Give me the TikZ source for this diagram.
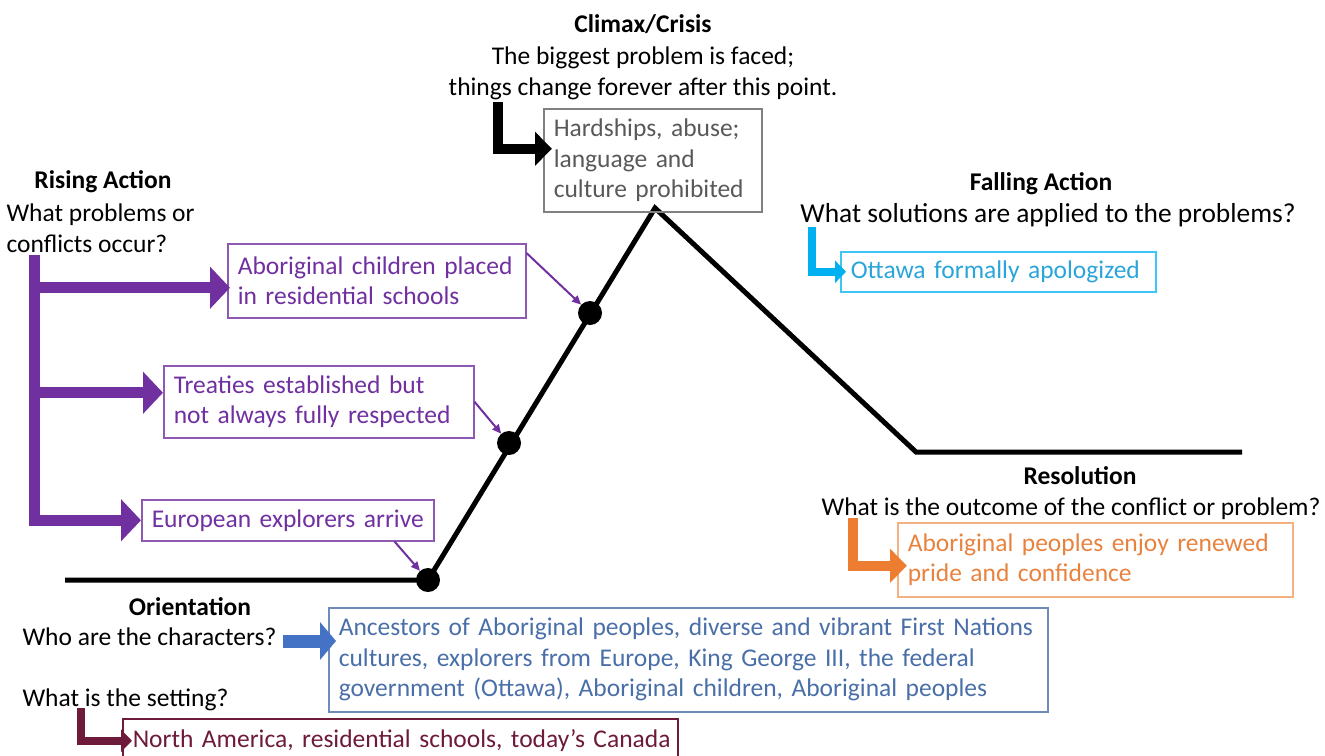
\documentclass[tikz,border=0pt]{standalone}
\usepackage{fontspec}
\setmainfont{Carlito}
\usepackage{xcolor}
\usetikzlibrary{arrows, arrows.meta}
\usetikzlibrary{positioning}

\definecolor{risepurple}{HTML}{7030A0}
\definecolor{crisisgray}{HTML}{595959}
\definecolor{fallcyan}{HTML}{00B0F0}
\definecolor{fallcyantext}{HTML}{2AA5DA}
\definecolor{resorange}{HTML}{ED7D31}
\definecolor{resorangetext}{HTML}{E8823F}
\definecolor{orientblue}{HTML}{4472C4}
\definecolor{charblue}{HTML}{4A6FA8}
\definecolor{setmaroon}{HTML}{6E1A3A}

\tikzset{
	x=1pt, y=-1pt,
	every node/.style={font=\fontsize{25.5}{30.5}\selectfont},
	heading/.style={font=\fontsize{25.5}{30.5}\selectfont\bfseries},
	evbox/.style={draw, line width=1.5pt, anchor=north west, inner xsep=10pt, inner ysep=0pt, align=left},
	dot/.style={circle, fill=black, minimum size=24pt, inner sep=0pt},
	plotline/.style={line width=5pt},
	pointer/.style={risepurple, line width=2pt, -{Triangle[length=9pt, width=8pt]}},
	bigarrow/.style={line width=10pt, -{Triangle[length=17pt, width=33pt]}},
	smallarrow/.style={line width=8pt, -{Triangle[length=11pt, width=22pt]}},
}

\begin{document}
\begin{tikzpicture}
	\useasboundingbox (0,0) rectangle (1325,755);
	
	%plot line
	\coordinate (start) at (65,580);
	\coordinate (peak) at (655,208);
	\coordinate (trough) at (916,452);
	\coordinate (end) at (1242,452);
	\draw[plotline] (start) -- (428,580) -- (peak) -- (trough) -- (end);
	
	%points on the plot
	\node[dot] (d1) at (428,580) {};
	\node[dot] (d2) at (509,443) {};
	\node[dot] (d3) at (590,313) {};
	
	%labels
	\node[heading] (climaxh) at (643,24) {Climax/Crisis};
	\node[align=center] (climaxq) at (643,73.5) {The biggest problem is faced;\\things change forever after this point.};
	
	\node[heading] (riseh) at (103,182) {Rising Action};
	\node[anchor=west, align=left] (riseq) at (3,228) {What problems or\\conflicts occur?};
	
	\node[heading] (fallh) at (1041,184) {Falling Action};
	\node[font=\fontsize{27.4}{30.5}\selectfont] (fallq) at (1048,215) {What solutions are applied to the problems?};
	
	\node[heading] (resh) at (1080,476) {Resolution};
	\node (resq) at (1071,509) {What is the outcome of the conflict or problem?};
	
	\node[heading] (orienth) at (190,607) {Orientation};
	\node[anchor=west] (who) at (19,637) {Who are the characters?};
	\node[anchor=west] (where) at (19,700) {What is the setting?};
	
	%boxes
	\node[evbox, draw=gray, text=crisisgray, text width=198pt, minimum height=103pt] (hard) at (543,108) {Hardships, abuse;\\language and\\culture prohibited};
	\node[evbox, draw=risepurple!80, text=risepurple, text width=278pt, minimum height=74pt] (boxA) at (227,243) {Aboriginal children placed\\in residential schools};
	\node[evbox, draw=risepurple!80, text=risepurple, text width=290pt, minimum height=72pt] (boxB) at (163,365) {Treaties established but\\not always fully respected};
	\node[evbox, draw=risepurple!80, text=risepurple, text width=272pt, minimum height=41pt] (boxC) at (141,499) {European explorers arrive};
	\node[evbox, draw=fallcyan!75, text=fallcyantext, text width=295pt, minimum height=40pt] (apology) at (840,251) {Ottawa formally apologized};
	\node[evbox, draw=resorange!60, text=resorangetext, text width=375pt, minimum height=74pt] (pride) at (897,522) {Aboriginal peoples enjoy renewed\\pride and confidence};
	\node[evbox, draw=charblue!80, text=charblue, text width=699pt, minimum height=104pt] (chars) at (328,607) {Ancestors of Aboriginal peoples, diverse and vibrant First Nations\\cultures, explorers from Europe, King George III, the federal\\government (Ottawa), Aboriginal children, Aboriginal peoples};
	\node[evbox, draw=setmaroon, text=setmaroon, text width=535pt, minimum height=44pt] (setting) at (122,718) {\mbox{North America, residential schools, today’s Canada}};
	
	%arrows from the questions
	\coordinate (crisisfoot) at (498,102);
	\draw[bigarrow, black] (crisisfoot) |- ([xshift=9pt, yshift=11.5pt]hard.west);
	
	\coordinate (risefoot) at (34,255);
	\coordinate (tipA) at ([xshift=3pt, yshift=-7pt]boxA.west);
	\coordinate (tipB) at ([yshift=9pt]boxB.west);
	\draw[risepurple, line width=11pt, -{Triangle[length=20pt, width=41pt]}] (risefoot) |- (boxC.west);
	\draw[risepurple, line width=11pt, -{Triangle[length=20pt, width=41pt]}] (tipA -| risefoot) -- (tipA);
	\draw[risepurple, line width=11pt, -{Triangle[length=20pt, width=41pt]}] (tipB -| risefoot) -- (tipB);
	
	\coordinate (fallfoot) at (812,227);
	\draw[smallarrow, fallcyan] (fallfoot) |- ([xshift=6pt]apology.west);
	
	\coordinate (resfoot) at (853,518);
	\draw[bigarrow, resorange] (resfoot) |- ([xshift=10pt, yshift=-6pt]pride.west);
	
	\coordinate (wherefoot) at (81,708);
	\draw[smallarrow, setmaroon] (wherefoot) |- ([xshift=10pt]setting.west);
	
	\coordinate (whotip) at (chars.west |- who.east);
	\draw[orientblue, line width=13pt, -{Triangle[length=16pt, width=37pt]}] ([xshift=3pt, yshift=-4pt]who.east) -- ([xshift=8pt, yshift=-4pt]whotip);
	
	%pointers to the plot
	\draw[pointer] ([yshift=-10pt]boxA.north east) -- (d3);
	\draw[pointer] (boxB.east) -- (d2);
	\draw[pointer] ([xshift=-40pt]boxC.south east) -- (d1);
	
\end{tikzpicture}
\end{document}
